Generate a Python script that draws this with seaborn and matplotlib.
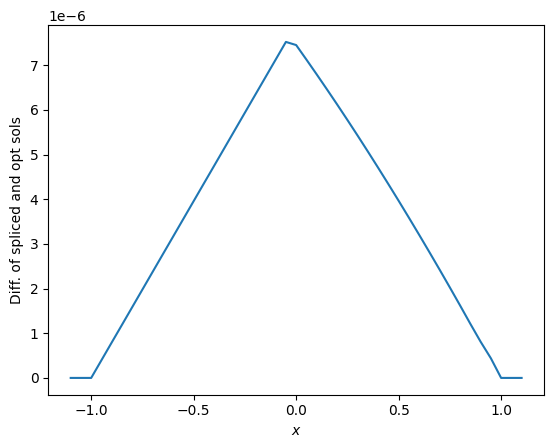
import numpy as np
import pandas as pd
import matplotlib
matplotlib.use("Agg")
import matplotlib.pyplot as plt
import seaborn as sns

# grid points (step 0.05) and difference values, in units of 1e-6
x_vals = [-1.10, -1.05, -1.00, -0.95, -0.90, -0.85, -0.80, -0.75, -0.70, -0.65,
          -0.60, -0.55, -0.50, -0.45, -0.40, -0.35, -0.30, -0.25, -0.20, -0.15,
          -0.10, -0.05, 0.00, 0.05, 0.10, 0.15, 0.20, 0.25, 0.30, 0.35,
          0.40, 0.45, 0.50, 0.55, 0.60, 0.65, 0.70, 0.75, 0.80, 0.85,
          0.90, 0.95, 1.00, 1.05, 1.10]
diff_e6 = [0.0, 0.0, 0.0, 0.396, 0.792, 1.187, 1.583, 1.979, 2.375, 2.771,
           3.166, 3.562, 3.958, 4.354, 4.749, 5.145, 5.541, 5.937, 6.333, 6.728,
           7.124, 7.520, 7.450, 7.125, 6.795, 6.460, 6.120, 5.774, 5.423, 5.066,
           4.704, 4.337, 3.965, 3.587, 3.204, 2.816, 2.423, 2.024, 1.620, 1.210,
           0.810, 0.440, 0.0, 0.0, 0.0]

df = pd.DataFrame({"x": x_vals, "diff": np.array(diff_e6) * 1e-6})

fig, ax = plt.subplots(figsize=(6.4, 4.8))
sns.lineplot(data=df, x="x", y="diff", ax=ax, color="#1f77b4", linewidth=1.5)
ax.set_xlabel("$x$")
ax.set_ylabel("Diff. of spliced and opt sols")
fig.savefig("out.png", dpi=100, bbox_inches="tight")
